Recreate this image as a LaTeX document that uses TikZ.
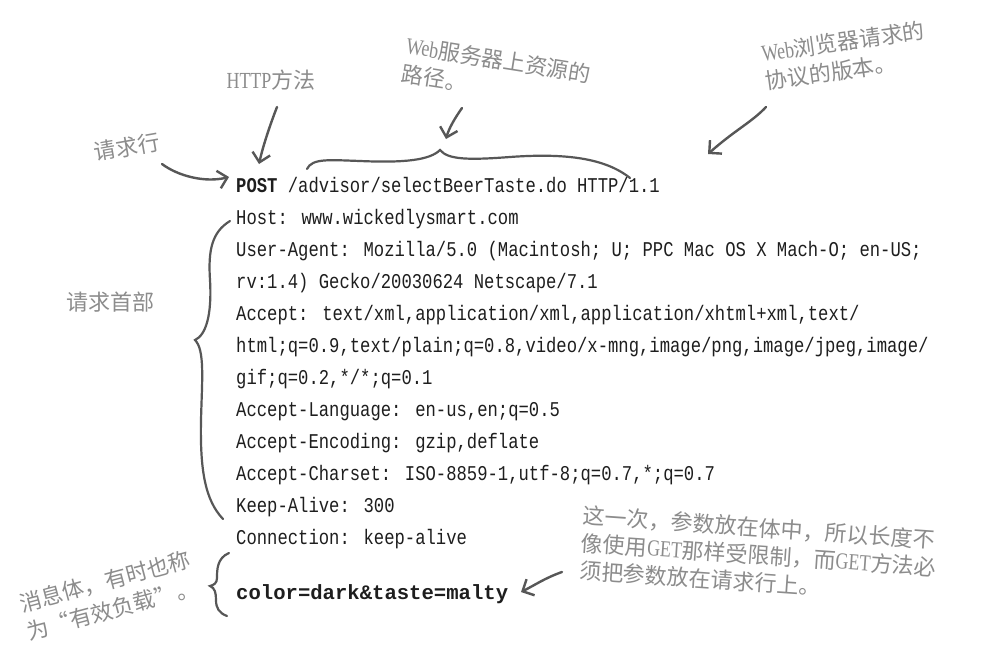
\documentclass[tikz,border=0pt]{standalone}
\usepackage{fontspec}
\usetikzlibrary{arrows.meta}
\newfontfamily\codefont[FakeStretch=0.82]{Liberation Mono}
\newfontfamily\bodyfont{Liberation Mono}
\newfontfamily\cjk{Noto Sans CJK SC}
\newfontfamily\anlatfont[FakeStretch=0.78]{Liberation Serif}
\newcommand\anlat[1]{{\anlatfont\fontsize{23}{28}\selectfont #1}}
\definecolor{codecol}{HTML}{1E1E1E}
\definecolor{notecol}{HTML}{8C8C8C}
\definecolor{arrcol}{HTML}{575757}
\tikzset{
  code/.style={anchor=base west, inner sep=0pt, text=codecol, font=\codefont\fontsize{21}{21}\selectfont},
  bodyline/.style={anchor=base west, inner sep=0pt, text=codecol, font=\bodyfont\bfseries\fontsize{20.6}{20.6}\selectfont},
  note/.style={text=notecol, inner sep=0pt, align=left, font=\cjk\fontsize{22}{28}\selectfont},
  arr/.style={draw=arrcol, line width=2.4pt, line cap=round,
    -{Straight Barb[length=9pt,width=18pt,line width=2.4pt]}},
  brace/.style={draw=arrcol, line width=2.2pt, line cap=round},
}
\begin{document}
\begin{tikzpicture}[x=1pt,y=-1pt]
\fill[white] (0,0) rectangle (982,661);
\useasboundingbox (0,0) rectangle (982,661);

% code lines
\node[code] (l1) at (236,192) {\textbf{POST} /advisor/selectBeerTaste.do HTTP/1.1};
\node[code] (l2) at (236,224) {Host: www.wickedlysmart.com};
\node[code] (l3) at (236,256) {User-Agent: Mozilla/5.0 (Macintosh; U; PPC Mac OS X Mach-O; en-US;};
\node[code] (l4) at (236,288) {rv:1.4) Gecko/20030624 Netscape/7.1};
\node[code] (l5) at (236,320) {Accept: text/xml,application/xml,application/xhtml+xml,text/};
\node[code] (l6) at (236,352) {html;q=0.9,text/plain;q=0.8,video/x-mng,image/png,image/jpeg,image/};
\node[code] (l7) at (236,384) {gif;q=0.2,*/*;q=0.1};
\node[code] (l8) at (236,416) {Accept-Language: en-us,en;q=0.5};
\node[code] (l9) at (236,448) {Accept-Encoding: gzip,deflate};
\node[code] (l10) at (236,480) {Accept-Charset: ISO-8859-1,utf-8;q=0.7,*;q=0.7};
\node[code] (l11) at (236,512) {Keep-Alive: 300};
\node[code] (l12) at (236,544) {Connection: keep-alive};
\node[bodyline] (body) at (236,599) {color=dark\&taste=malty};

% annotations
\node[note] (nhttp) at (271,80) {\anlat{HTTP}方法};
\node[note, rotate=10] (nline) at (127,147) {请求行};
\node[note, rotate=-9, anchor=north west] (npath) at (408,35) {\anlat{Web}服务器上资源的\\路径。};
\node[note, rotate=8, anchor=north west] (nver) at (760,43) {\anlat{Web}浏览器请求的\\协议的版本。};
\node[note] (nhdr) at (110,302) {请求首部};
\node[note, rotate=15, anchor=north west, font=\cjk\fontsize{22}{29}\selectfont] (nbody) at (17,594) {消息体，有时也称\\为“有效负载”。};
\node[note, rotate=-4, anchor=north west, font=\cjk\fontsize{22}{27.5}\selectfont] (nnote) at (584,505) {这一次，参数放在体中，所以长度不\\像使用\anlat{GET}那样受限制，而\anlat{GET}方法必\\须把参数放在请求行上。};

% arrow end points
\coordinate (a1s) at (277,107); \coordinate (a1e) at (259,164);
\coordinate (a2s) at (162,164); \coordinate (a2e) at (229,177);
\coordinate (a3s) at (462,108); \coordinate (a3e) at (446,139);
\coordinate (a4s) at (766,107); \coordinate (a4e) at (708,154);
\coordinate (a5s) at (562,572); \coordinate (a5e) at (521,592);

\draw[arr] (a1s) .. controls (270,125) and (263,146) .. (a1e);
\draw[arr] (a2s) .. controls (178,176) and (205,183) .. (a2e);
\draw[arr] (a3s) .. controls (455,118) and (449,128) .. (a3e);
\draw[arr] (a4s) .. controls (752,122) and (735,130) .. (a4e);
\draw[arr] (a5s) .. controls (545,578) and (535,585) .. (a5e);

% braces
\coordinate (b1s) at (307,169); \coordinate (b1e) at (630,178);
\draw[brace] (b1s) .. controls (312,158) and (330,160) .. (360,161)
  .. controls (405,163) and (430,160) .. (440,150)
  .. controls (448,160) and (470,160) .. (510,157)
  .. controls (565,153) and (605,158) .. (b1e);
\coordinate (b2s) at (230,221); \coordinate (b2e) at (223,519);
\draw[brace] (b2s) .. controls (212,232) and (208,250) .. (210,280)
  .. controls (212,315) and (206,335) .. (195,340)
  .. controls (205,350) and (202,380) .. (201,420)
  .. controls (200,470) and (205,500) .. (b2e);
\coordinate (b3s) at (229,553); \coordinate (b3e) at (227,616);
\draw[brace] (b3s) .. controls (217,558) and (217,570) .. (217,578)
  .. controls (217,583) and (214,585) .. (210,586)
  .. controls (215,588) and (216,593) .. (216,600)
  .. controls (216,608) and (219,613) .. (b3e);
\end{tikzpicture}
\end{document}
